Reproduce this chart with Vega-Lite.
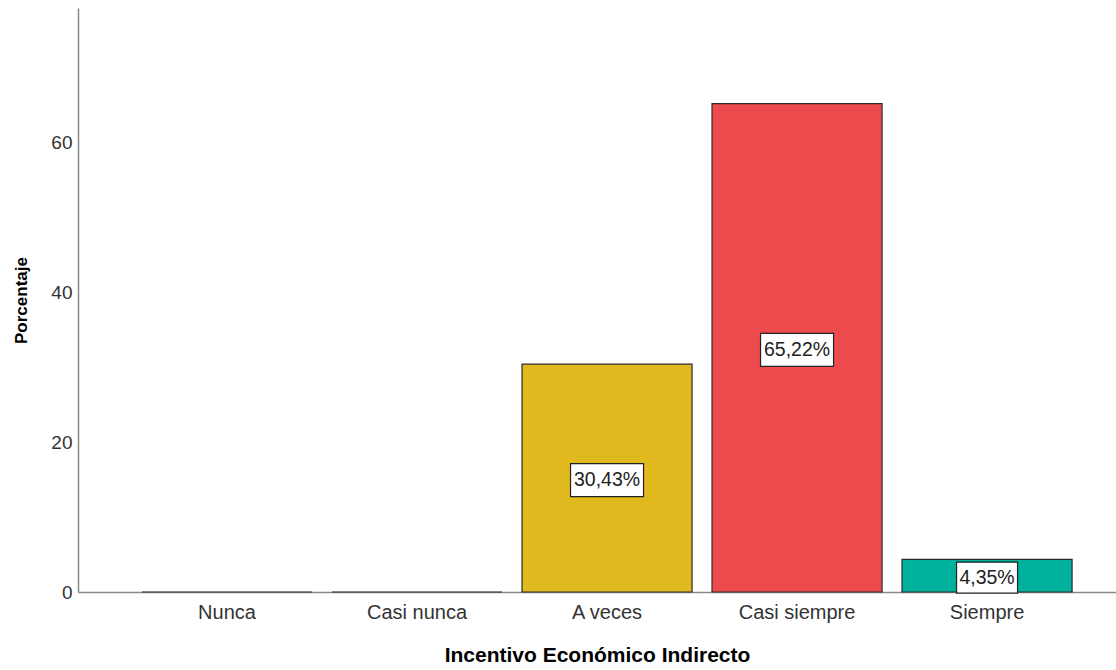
{
  "$schema": "https://vega.github.io/schema/vega-lite/v6.json",
  "width": 1038,
  "height": 584,
  "autosize": "none",
  "padding": {"left": 78, "top": 8, "right": 0, "bottom": 78},
  "background": "white",
  "config": {
    "view": {"stroke": null},
    "font": "Liberation Sans",
    "axis": {"grid": false, "labelFont": "Liberation Sans", "titleFont": "Liberation Sans", "domainColor": "#8a8a8a", "domainWidth": 1.5, "labelColor": "#333333", "titleColor": "#000000"}
  },
  "data": {
    "values": [
      {"categoria": "Nunca", "porcentaje": 0, "etiqueta": ""},
      {"categoria": "Casi nunca", "porcentaje": 0, "etiqueta": ""},
      {"categoria": "A veces", "porcentaje": 30.43, "etiqueta": "30,43%"},
      {"categoria": "Casi siempre", "porcentaje": 65.22, "etiqueta": "65,22%"},
      {"categoria": "Siempre", "porcentaje": 4.35, "etiqueta": "4,35%"}
    ]
  },
  "encoding": {
    "x": {
      "field": "categoria",
      "type": "nominal",
      "sort": ["Nunca", "Casi nunca", "A veces", "Casi siempre", "Siempre"],
      "scale": {"paddingInner": 0.105, "paddingOuter": 0.284, "align": 0.593},
      "axis": {"title": "Incentivo Económico Indirecto", "labelAngle": 0, "ticks": false, "labelFontSize": 20, "labelPadding": 10, "titleFontSize": 21, "titleFontWeight": "bold", "titlePadding": 22}
    }
  },
  "layer": [
    {
      "mark": {"type": "bar", "stroke": "#2b2b2b", "strokeWidth": 1.2},
      "encoding": {
        "y": {
          "field": "porcentaje",
          "type": "quantitative",
          "scale": {"domain": [0, 78], "nice": false},
          "axis": {"title": "Porcentaje", "values": [0, 20, 40, 60], "ticks": false, "labelFontSize": 19, "labelPadding": 6, "titleFontSize": 17, "titleFontWeight": "bold", "titlePadding": 20}
        },
        "color": {
          "field": "categoria",
          "type": "nominal",
          "scale": {"domain": ["Nunca", "Casi nunca", "A veces", "Casi siempre", "Siempre"], "range": ["#3e58ac", "#2eb848", "#e0b91f", "#ec4a4c", "#00b29e"]},
          "legend": null
        }
      }
    },
    {
      "transform": [{"filter": "datum.porcentaje > 0"}, {"calculate": "datum.porcentaje / 2", "as": "medio"}],
      "mark": {"type": "point", "filled": true, "fill": "white", "stroke": "#222222", "strokeWidth": 1.2, "opacity": 1, "yOffset": 2},
      "encoding": {
        "y": {"field": "medio", "type": "quantitative"},
        "shape": {
          "condition": {"test": "datum.porcentaje < 10", "value": "M-1,-0.508L1,-0.508L1,0.508L-1,0.508Z"},
          "value": "M-1,-0.452L1,-0.452L1,0.452L-1,0.452Z"
        },
        "size": {"condition": {"test": "datum.porcentaje < 10", "value": 3721}, "value": 5329}
      }
    },
    {
      "transform": [{"filter": "datum.porcentaje > 0"}, {"calculate": "datum.porcentaje / 2", "as": "medio"}],
      "mark": {"type": "text", "fontSize": 19.5, "color": "#222222", "baseline": "middle", "align": "center", "yOffset": 2},
      "encoding": {
        "y": {"field": "medio", "type": "quantitative"},
        "text": {"field": "etiqueta"}
      }
    }
  ]
}
